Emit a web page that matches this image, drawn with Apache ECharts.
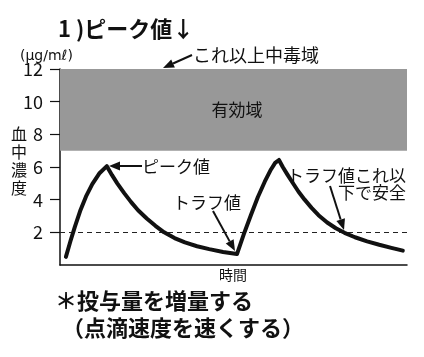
<!DOCTYPE html>
<html>
<head>
<meta charset="utf-8">
<script src="https://cdn.jsdelivr.net/npm/echarts@6/dist/echarts.min.js"></script>
<style>
html,body{margin:0;padding:0;background:#fff;}
#c{width:424px;height:357px;}
</style>
</head>
<body>
<div id="c"></div>
<script>
// time (arbitrary units 0-100) and blood concentration (μg/mℓ)
const times = [1.7, 3.0, 4.3, 5.8, 7.5, 9.3, 11.3, 13.5,
  15.0, 16.5, 18.5, 20.5, 22.5, 25.0, 27.5, 30.0, 33.0, 36.0, 39.5, 43.0, 47.0, 51.0,
  53.0, 55.0, 57.0, 59.0, 60.8, 62.0, 63.1,
  64.2, 65.5, 67.0, 68.7, 70.5, 72.5, 74.5, 77.0, 79.5, 82.0, 85.0, 88.5, 92.0, 95.5, 98.8];
const conc = [0.5, 1.45, 2.35, 3.3, 4.2, 4.95, 5.6, 6.05,
  5.5, 5.0, 4.4, 3.85, 3.35, 2.85, 2.4, 2.0, 1.65, 1.38, 1.15, 0.97, 0.8, 0.67,
  1.9, 3.05, 4.15, 5.1, 5.85, 6.25, 6.43,
  6.0, 5.55, 5.05, 4.5, 4.0, 3.5, 3.05, 2.6, 2.25, 1.97, 1.7, 1.45, 1.24, 1.05, 0.88];
const yTicks = [2, 4, 6, 8, 10, 12];
const effectiveBand = [7, 12];
const safeLine = 2;

const FONT = 'Noto Sans CJK JP';
const chart = echarts.init(document.getElementById('c'), null, {renderer: 'canvas'});

function arrow(x1, y1, x2, y2) {
  const dx = x2 - x1, dy = y2 - y1, L = Math.hypot(dx, dy);
  const ux = dx / L, uy = dy / L, hl = 11, hw = 4.5;
  const bx = x2 - ux * hl, by = y2 - uy * hl;
  return [
    {type: 'line', z: 100, shape: {x1: x1, y1: y1, x2: bx, y2: by}, style: {stroke: '#111', lineWidth: 2}},
    {type: 'polygon', z: 100, shape: {points: [[x2, y2], [bx - uy * hw, by + ux * hw], [bx + uy * hw, by - ux * hw]]}, style: {fill: '#111'}}
  ];
}

function txt(text, x, y, size, opts) {
  opts = opts || {};
  return {
    type: 'text', x: x, y: y, z: 100,
    style: Object.assign({text: text, fill: '#111', fontSize: size, fontFamily: opts.family || FONT,
      fontWeight: opts.bold ? 'bold' : 'normal',
      align: 'left', verticalAlign: 'middle'}, opts.style || {})
  };
}

const graphics = [
  txt('1 )ピーク値↓', 58, 29, 22, {bold: true}),
  txt('(μg/mℓ)', 20, 56, 14, {family: 'DejaVu Sans'}),
  txt('これ以上中毒域', 193, 55, 18),
  txt('有効域', 237, 110, 17, {style: {align: 'center'}}),
  {type: 'text', x: 19, y: 125, z: 100, style: {text: '血\n中\n濃\n度', fill: '#111', fontSize: 16, fontFamily: FONT, align: 'center', verticalAlign: 'top', lineHeight: 18}},
  txt('ピーク値', 142, 167, 17),
  txt('トラフ値', 173, 203, 17),
  txt('トラフ値これ以', 406, 176, 17, {style: {align: 'right'}}),
  txt('下で安全', 406, 193, 17, {style: {align: 'right'}}),
  txt('時間', 233, 275, 14, {style: {align: 'center'}}),
  txt('＊投与量を増量する', 55, 301, 22, {bold: true}),
  txt('（点滴速度を速くする）', 62, 328, 22, {bold: true})
].concat(
  arrow(192, 55, 163, 68),
  arrow(142, 166, 109, 166),
  arrow(213, 211, 235, 251),
  arrow(330, 186, 344, 230)
);

chart.setOption({
  animation: false,
  backgroundColor: '#fff',
  grid: {left: 60, right: 17, top: 69, bottom: 92, containLabel: false},
  xAxis: {
    type: 'value', min: 0, max: 100,
    axisLine: {show: true, lineStyle: {color: '#111', width: 1.5}},
    axisTick: {show: false}, axisLabel: {show: false}, splitLine: {show: false}
  },
  yAxis: {
    type: 'value', min: 0, max: 12, interval: 2,
    axisLine: {show: true, lineStyle: {color: '#111', width: 1.5}},
    axisTick: {show: true, length: 10, lineStyle: {color: '#111', width: 1.2}, customValues: yTicks},
    axisLabel: {show: true, margin: 17, color: '#111', fontSize: 18, fontFamily: FONT, customValues: yTicks},
    splitLine: {show: false}
  },
  series: [{
    type: 'line',
    data: times.map((t, i) => [t, conc[i]]),
    symbol: 'none',
    smooth: false,
    lineStyle: {color: '#111', width: 4, join: 'round', cap: 'round'},
    z: 5,
    markArea: {
      silent: true,
      itemStyle: {color: '#989898'},
      data: [[{yAxis: effectiveBand[0]}, {yAxis: effectiveBand[1]}]]
    },
    markLine: {
      silent: true,
      symbol: 'none',
      label: {show: false},
      lineStyle: {color: '#222', width: 1, type: [5, 4]},
      data: [{yAxis: safeLine}]
    }
  }],
  graphic: graphics
});
</script>
</body>
</html>
